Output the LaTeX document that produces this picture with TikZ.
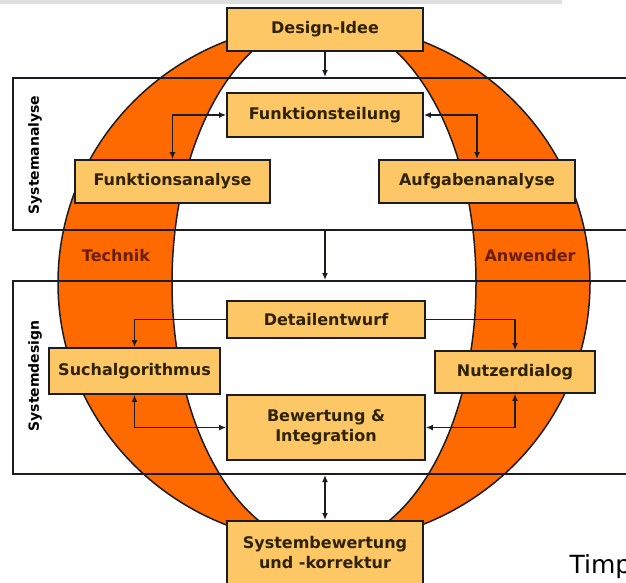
\documentclass[tikz,border=0pt]{standalone}
\usepackage{fontspec}
\setmainfont{DejaVu Sans}
\usepackage{xcolor}
\usepackage{tikz}
\usetikzlibrary{positioning,arrows.meta,calc}

\definecolor{ringorange}{HTML}{FF6A00}
\definecolor{boxfill}{HTML}{FDC766}
\definecolor{boxtext}{HTML}{2E2200}
\definecolor{ringtext}{HTML}{6A1E00}
\definecolor{linecol}{HTML}{1C1C24}

\begin{document}
\begin{tikzpicture}[
    x=1pt, y=-1pt,
    every node/.style={font=\fontsize{16}{20}\selectfont\bfseries, text=boxtext},
    stage/.style={draw=linecol, line width=1.8pt, fill=boxfill, align=center, inner sep=2pt},
    phase/.style={draw=linecol, line width=2pt, minimum width=628pt, anchor=north west},
    phase label/.style={rotate=90, font=\fontsize{14}{16}\selectfont\bfseries, text=black},
    side label/.style={text=ringtext},
    link/.style={draw=linecol, line width=1.8pt, -{Latex[length=7pt,width=6pt]}},
    twoway/.style={link, {Latex[length=7pt,width=6pt]}-{Latex[length=7pt,width=6pt]}}
]
    \useasboundingbox (0,0) rectangle (626,582);
    \fill[gray!25] (0,0) rectangle (562,4);

    % ring
    \fill[ringorange, even odd rule]
        (324,283) ellipse [x radius=266pt, y radius=260pt]
        (324,283) ellipse [x radius=152pt, y radius=263pt];
    \draw[linecol, line width=1.5pt] (324,283) ellipse [x radius=266pt, y radius=260pt];
    \draw[linecol, line width=1.5pt] (324,283) ellipse [x radius=152pt, y radius=263pt];

    % phases
    \node[phase, minimum height=152pt] (analyse) at (12,77) {};
    \node[phase, minimum height=193pt] (entwurf) at (12,280) {};
    \node[phase label] (analyse label) at (35,155) {Systemanalyse};
    \node[phase label] (entwurf label) at (35,376) {Systemdesign};

    \node[side label] (technik) at (116,256) {Technik};
    \node[side label] (anwender) at (530,256) {Anwender};

    % stages
    \node[stage, minimum width=196pt, minimum height=43pt] (idee) at (325,29.5) {Design-Idee};
    \node[stage, minimum width=196pt, minimum height=44pt] (teilung) at (325,115) {Funktionsteilung};
    \node[stage, minimum width=195pt, minimum height=43pt] (fanalyse) at (172.5,181.5) {Funktionsanalyse};
    \node[stage, minimum width=196pt, minimum height=43pt] (aanalyse) at (477,181.5) {Aufgabenanalyse};
    \node[stage, minimum width=198pt, minimum height=37pt] (detail) at (326,319.5) {Detailentwurf};
    \node[stage, minimum width=171pt, minimum height=46pt] (such) at (134.5,371) {Suchalgorithmus};
    \node[stage, minimum width=160pt, minimum height=42pt] (dialog) at (515,372) {Nutzerdialog};
    \node[stage, minimum width=198pt, minimum height=65pt] (bewertung) at (326,427.5) {Bewertung \&\\Integration};
    \node[stage, minimum width=196pt, minimum height=64pt, anchor=north] (korrektur) at (325,520) {Systembewertung\\und -korrektur};

    \draw[link] (idee) -- (idee |- analyse.north);
    \draw[link] (idee |- analyse.south) -- (idee |- entwurf.north);
    \draw[twoway] (teilung.west) -| (fanalyse.north);
    \draw[twoway] (teilung.east) -| (aanalyse.north);
    \draw[link] (detail.west) -| (such.north);
    \draw[link] (detail.east) -| (dialog.north);
    \draw[twoway] (bewertung.west) -| (such.south);
    \draw[twoway] (bewertung.east) -| (dialog.south);
    \draw[twoway] (idee |- entwurf.south) -- (korrektur.north);

    \node[anchor=base west, font=\fontsize{25}{28}\selectfont, text=black] (credit) at (566,573) {Timp};
\end{tikzpicture}
\end{document}
